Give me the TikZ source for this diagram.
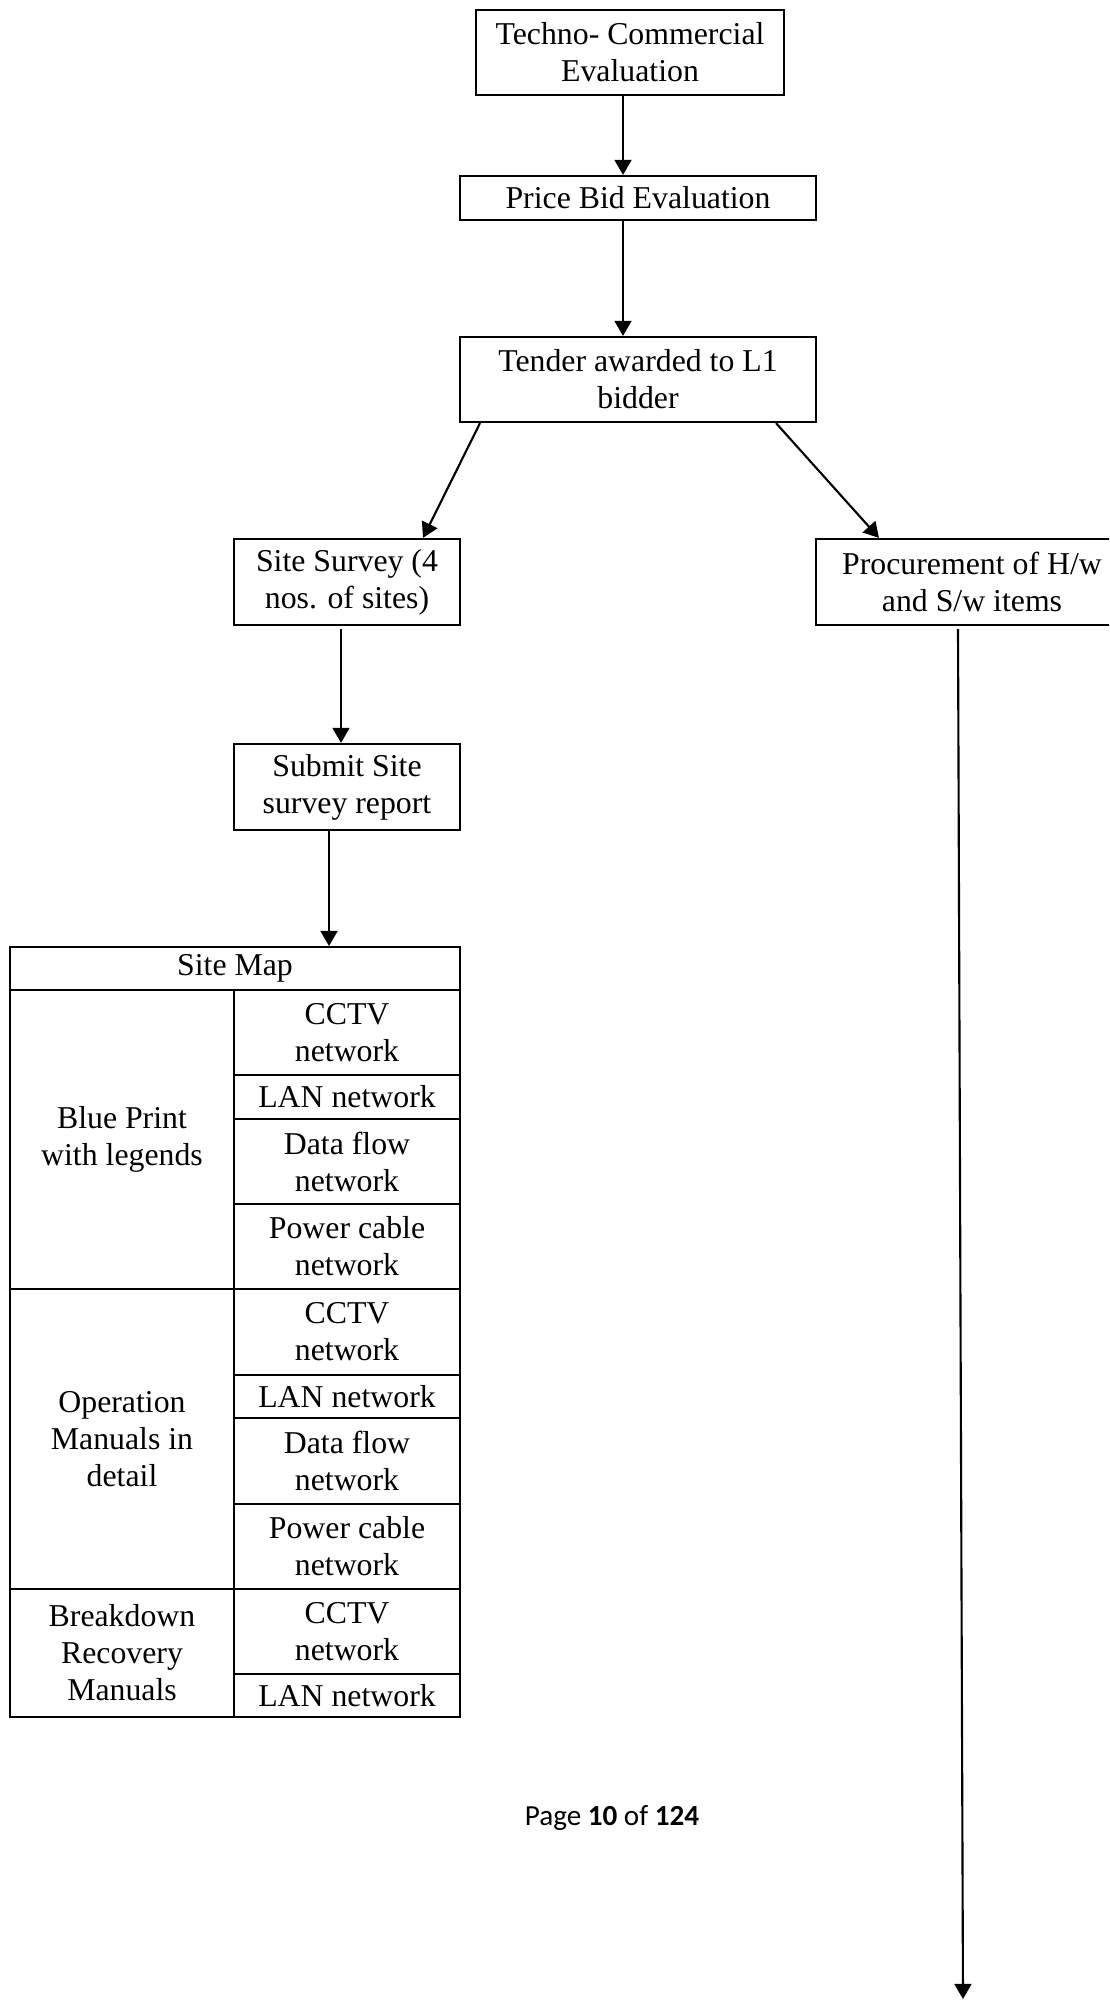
\documentclass[tikz,border=0pt]{standalone}
\usepackage{fontspec}
\setmainfont{Liberation Serif}
\newfontfamily\pagefont{Carlito}
\usetikzlibrary{arrows.meta,calc}
\begin{document}
\begin{tikzpicture}[x=0.3774pt,y=-0.3774pt,
  txt/.style={font=\fontsize{12pt}{14pt}\selectfont, align=center, inner sep=0pt},
  box/.style={txt, draw, line width=0.8pt},
  cell/.style={txt, draw, line width=0.75pt},
  arr/.style={line width=0.8pt, -{Triangle[length=5.7pt,width=6.4pt]}}]
\useasboundingbox (0,0) rectangle (1109,2000);
\clip (0,0) rectangle (1109,2000);
% flow boxes
\node[box, minimum width=116.2pt, minimum height=32.1pt] (techno) at (630,52.5) {Techno- Commercial\\Evaluation};
\node[box, minimum width=134.4pt, minimum height=16.6pt] (price) at (638,198) {Price Bid Evaluation};
\node[box, minimum width=134.4pt, minimum height=32.1pt] (tender) at (638,379.5) {Tender awarded to L1\\bidder};
\node[box, minimum width=85.3pt, minimum height=32.5pt] (survey) at (347,582) {Site Survey (4\\nos. of sites)};
\node[box, minimum width=117.7pt, minimum height=32.5pt] (proc) at (972,582) {Procurement of H/w\\and S/w items};
\node[box, minimum width=85.3pt, minimum height=32.5pt] (submit) at (347,787) {Submit Site\\survey report};
% table
\node[cell, minimum width=169.8pt, minimum height=16.2pt] (sitemap) at (235,968.5) {Site Map};
\node[cell, minimum width=84.5pt, minimum height=112.8pt] (bp) at (122,1139.5) {Blue Print\\with legends};
\node[cell, minimum width=85.3pt, minimum height=32.1pt] (bp1) at (347,1032.5) {CCTV\\network};
\node[cell, minimum width=85.3pt, minimum height=16.6pt] (bp2) at (347,1097) {LAN network};
\node[cell, minimum width=85.3pt, minimum height=32.1pt] (bp3) at (347,1161.5) {Data flow\\network};
\node[cell, minimum width=85.3pt, minimum height=32.1pt] (bp4) at (347,1246.5) {Power cable\\network};
\node[cell, minimum width=84.5pt, minimum height=113.2pt] (om) at (122,1439) {Operation\\Manuals in\\detail};
\node[cell, minimum width=85.3pt, minimum height=32.5pt] (om1) at (347,1332) {CCTV\\network};
\node[cell, minimum width=85.3pt, minimum height=16.2pt] (om2) at (347,1396.5) {LAN network};
\node[cell, minimum width=85.3pt, minimum height=32.5pt] (om3) at (347,1461) {Data flow\\network};
\node[cell, minimum width=85.3pt, minimum height=32.1pt] (om4) at (347,1546.5) {Power cable\\network};
\node[cell, minimum width=84.5pt, minimum height=48.3pt] (br) at (122,1653) {Breakdown\\Recovery\\Manuals};
\node[cell, minimum width=85.3pt, minimum height=32.1pt] (br1) at (347,1631.5) {CCTV\\network};
\node[cell, minimum width=85.3pt, minimum height=16.2pt] (br2) at (347,1695.5) {LAN network};
% page number
\node[font=\pagefont\fontsize{11pt}{13pt}\selectfont, anchor=base, inner sep=0pt] (pagenum) at (612,1825) {Page \textbf{10} of \textbf{124}};
% connectors
\coordinate (procend) at (963,1999);
\draw[arr] ($(techno.south)+(-7,0)$) -- ($(price.north)+(-15,0)$);
\draw[arr] ($(price.south)+(-15,0)$) -- ($(tender.north)+(-15,0)$);
\draw[arr] ($(tender.south)+(-158,0)$) -- ($(survey.north)+(76,0)$);
\draw[arr] ($(tender.south)+(138,0)$) -- ($(proc.north)+(-93,0)$);
\draw[arr] ($(survey.south)+(-6,3)$) -- ($(submit.north)+(-6,0)$);
\draw[arr] ($(submit.south)+(-18,0)$) -- ($(sitemap.north)+(94,0)$);
\draw[arr] ($(proc.south)+(-14,3)$) -- (procend);
\end{tikzpicture}
\end{document}
